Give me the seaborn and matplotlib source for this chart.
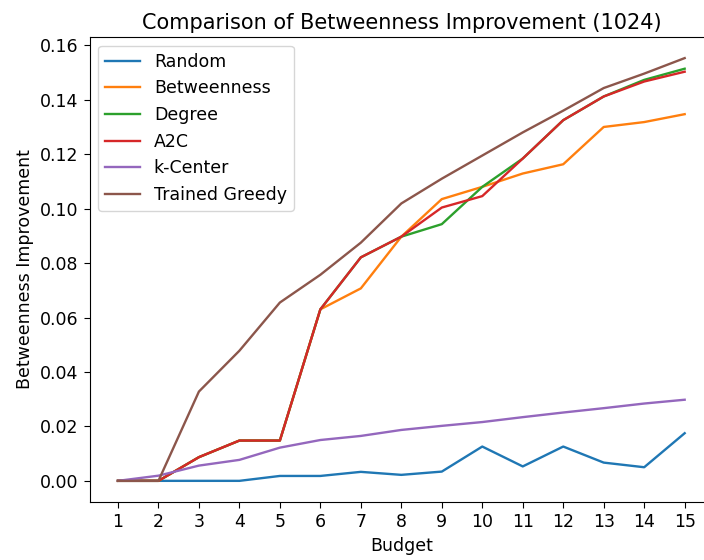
import matplotlib
matplotlib.use("Agg")
import matplotlib.pyplot as plt
import seaborn as sns
import pandas as pd

budget = list(range(1, 16))
random_v = [0.0, 0.0, 0.0, 0.0, 0.0018, 0.0018, 0.0033, 0.0022, 0.0034, 0.0126, 0.0053, 0.0126, 0.0067, 0.0050, 0.0175]
betweenness_v = [0.0, 0.0, 0.0087, 0.0148, 0.0148, 0.0630, 0.0707, 0.0897, 0.1035, 0.1080, 0.1129, 0.1163, 0.1300, 0.1318, 0.1347]
degree_v = [0.0, 0.0, 0.0087, 0.0148, 0.0148, 0.0630, 0.0821, 0.0897, 0.0943, 0.1080, 0.1184, 0.1325, 0.1412, 0.1473, 0.1514]
a2c_v = [0.0, 0.0, 0.0087, 0.0148, 0.0148, 0.0630, 0.0821, 0.0897, 0.1004, 0.1046, 0.1184, 0.1325, 0.1412, 0.1467, 0.1503]
kcenter_v = [0.0, 0.0019, 0.0056, 0.0077, 0.0122, 0.0150, 0.0165, 0.0187, 0.0202, 0.0216, 0.0234, 0.0251, 0.0267, 0.0284, 0.0298]
greedy_v = [0.0, 0.0, 0.0328, 0.0478, 0.0655, 0.0757, 0.0875, 0.1019, 0.1110, 0.1195, 0.1280, 0.1360, 0.1443, 0.1496, 0.1553]

methods = ["Random", "Betweenness", "Degree", "A2C", "k-Center", "Trained Greedy"]
series = [random_v, betweenness_v, degree_v, a2c_v, kcenter_v, greedy_v]

rows = []
for m, vals in zip(methods, series):
    for b, v in zip(budget, vals):
        rows.append({"Budget": b, "value": v, "method": m})
df = pd.DataFrame(rows)

plt.rcParams["font.size"] = 12.5
fig = plt.figure(figsize=(7.04, 5.6), dpi=100)
ax = fig.add_axes([0.1273, 0.1036, 0.8855, 0.8304])
sns.lineplot(data=df, x="Budget", y="value", hue="method", hue_order=methods,
             palette=sns.color_palette("tab10", 6), ax=ax, linewidth=1.7)
ax.set_xticks(budget)
ax.tick_params(labelsize=12.5, length=4.5)
ax.set_xlabel("Budget", fontsize=12.5)
ax.set_ylabel("Betweenness Improvement", fontsize=12.5)
ax.set_title("Comparison of Betweenness Improvement (1024)", fontsize=15)
ax.spines["right"].set_visible(False)
ax.legend(loc="upper left", title=None, fontsize=12.5)
fig.savefig("out.png", dpi=100)
